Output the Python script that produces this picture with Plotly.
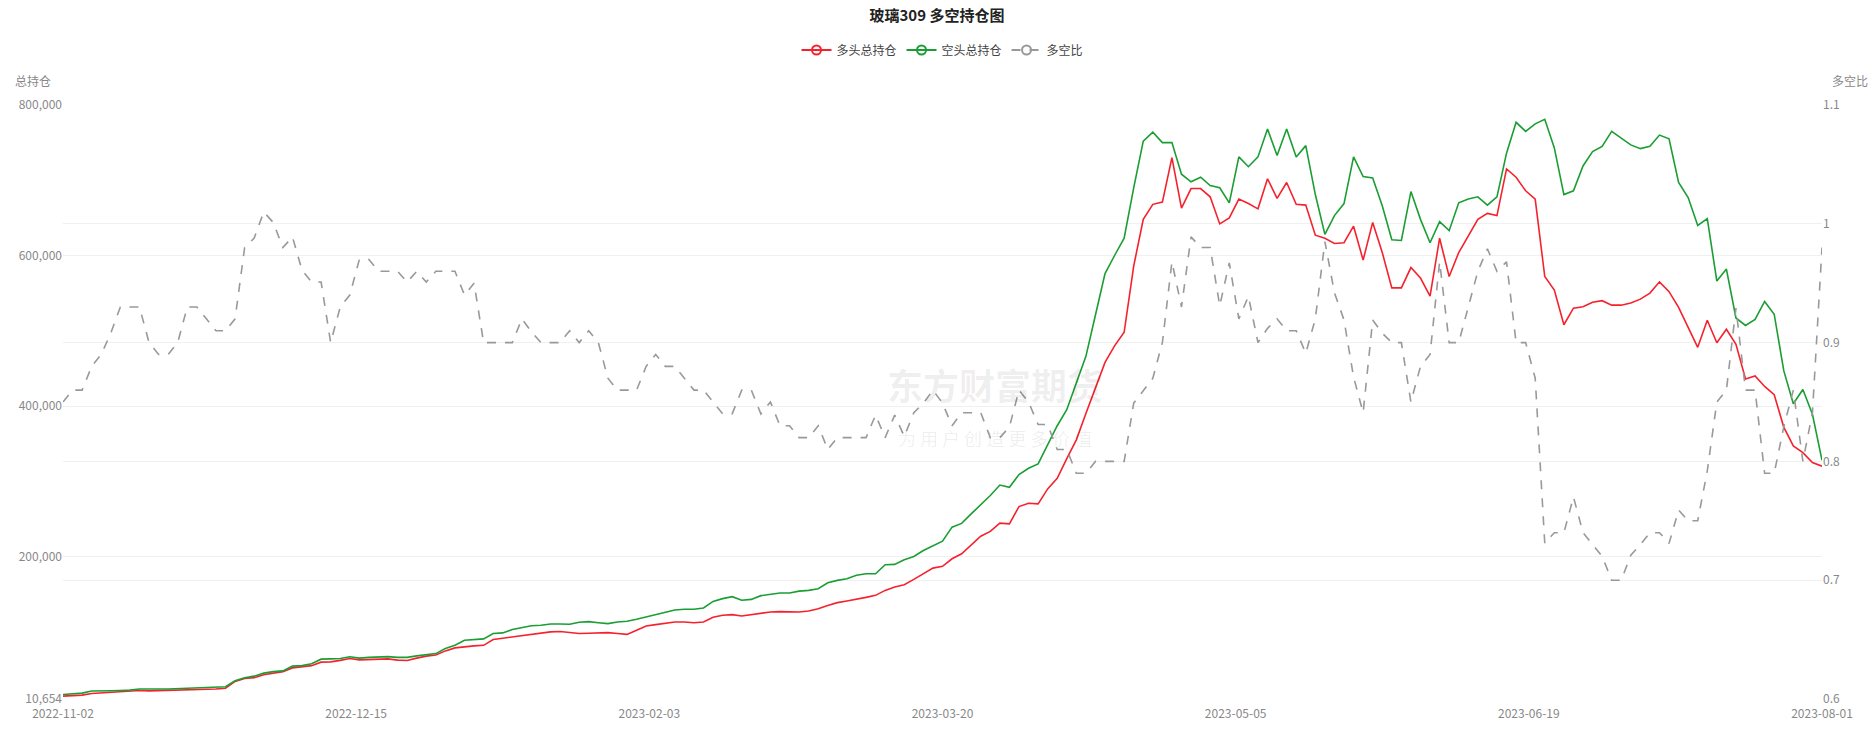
import plotly.graph_objects as go

title = "玻璃309 多空持仓图"
x_tick_labels = ["2022-11-02", "2022-12-15", "2023-02-03", "2023-03-20", "2023-05-05", "2023-06-19", "2023-08-01"]

# 空头总持仓 (short), thousands of lots
short_k = [16.7, 17.6, 18.5, 21.2, 21.0, 21.6, 22.0, 22.5, 24.0, 23.5, 24.0, 24.0, 24.5, 24.9, 25.3, 25.3, 26.0, 27.0, 35.0, 39.0,
           41.0, 45.0, 47.0, 48.0, 54.3, 55.0, 57.4, 63.6, 64.0, 64.5, 66.7, 65.0, 66.0, 67.0, 67.0, 66.0, 66.0, 68.0, 69.8, 71.0,
           77.7, 82.0, 88.8, 90.0, 90.6, 97.6, 98.5, 103, 105, 108, 108.7, 110.4, 110.4, 110, 112.7, 113.5, 112, 110.8, 113, 114,
           116.6, 119.7, 123, 126, 129, 130, 130, 131.6, 140.4, 144, 146.6, 141.8, 143, 148, 149.3, 151.5, 151.5, 154, 155, 157.2,
           165, 168.3, 170.5, 175, 177, 177, 189, 189.5, 195.7, 200, 208, 214.7, 220.4, 239, 244, 256.7, 268.6, 281, 295, 292,
           308.8, 317.2, 323, 349.5, 373.8, 395, 430, 466, 521, 576, 600, 623, 690, 752, 764, 750, 750, 708, 698, 704,
           693, 690, 670, 731, 718, 731, 768, 733, 768, 731, 746, 681, 628, 653, 669, 731, 705, 703, 666, 621,
           620, 685, 648, 617, 645, 633, 670, 675, 678, 667, 678, 736, 777, 765, 775, 781, 743, 681, 686, 719,
           738, 745, 765, 756, 747, 742, 745, 760, 755, 697, 677, 640, 649, 566, 582, 517, 507, 515, 539, 522,
           447, 403, 422, 389, 328]

# 多头总持仓 (long), thousands of lots
long_k = [14.5, 15.4, 15.8, 18.0, 19.0, 20.0, 21.0, 21.3, 22.0, 21.5, 21.8, 22.2, 22.6, 23.0, 23.4, 23.8, 24.0, 25.0, 34.0, 38.0,
          39.0, 43.0, 45.0, 47.0, 52.0, 53.0, 55.0, 59.6, 60.0, 62.0, 64.5, 62.7, 63.0, 64.0, 64.0, 62.3, 61.8, 65.0, 67.6, 69.0,
          74.6, 78.6, 80.4, 81.3, 82.0, 89.7, 91.4, 93, 95, 96.7, 98.5, 99.8, 100.3, 99.4, 97.6, 98, 98.5, 98.9, 97.6, 96.5,
          102, 107.7, 109.5, 111.7, 113, 113, 112, 113, 119.2, 122, 122.8, 121, 122.8, 125, 126.3, 126.7, 126.3, 126.3, 127.6, 130.7,
          135, 138.7, 140.9, 143, 145.7, 148.4, 155, 159.5, 162.6, 169.6, 177, 184.6, 186.9, 197, 203.7, 216, 227, 233.3, 244.3, 243.4,
          266.4, 270.8, 270, 289.8, 304, 330, 355, 390, 425, 458, 480, 498, 586, 648, 668, 671, 730, 663, 689, 689,
          678, 642, 650, 675, 669, 662, 702, 676, 697, 668, 667, 627, 623, 616, 617, 639, 594, 644, 604, 557,
          557, 584, 570, 546, 623, 572, 604, 626, 648, 656, 653, 715, 704, 686, 675, 572, 554, 508, 530, 532,
          538, 540, 534, 534, 537, 542, 550, 565, 552, 531, 505, 478, 514, 484, 502, 482, 436, 440, 426, 415,
          372, 347, 338, 325, 320]

# 多空比
ratio = [0.850, 0.860, 0.860, 0.880, 0.890, 0.908, 0.930, 0.930, 0.930, 0.900, 0.890, 0.890, 0.900, 0.930, 0.930, 0.920, 0.910, 0.910, 0.920, 0.980,
         0.988, 1.010, 1.001, 0.980, 0.989, 0.961, 0.951, 0.951, 0.900, 0.930, 0.940, 0.970, 0.970, 0.960, 0.960, 0.960, 0.951, 0.960, 0.951, 0.960,
         0.960, 0.960, 0.940, 0.950, 0.900, 0.900, 0.900, 0.900, 0.920, 0.909, 0.900, 0.900, 0.900, 0.910, 0.900, 0.910, 0.900, 0.870, 0.860, 0.860,
         0.860, 0.880, 0.890, 0.880, 0.880, 0.870, 0.860, 0.860, 0.850, 0.840, 0.840, 0.860, 0.860, 0.840, 0.850, 0.830, 0.830, 0.820, 0.820, 0.830,
         0.810, 0.820, 0.820, 0.820, 0.820, 0.839, 0.820, 0.839, 0.821, 0.841, 0.849, 0.860, 0.849, 0.830, 0.841, 0.841, 0.841, 0.820, 0.820, 0.829,
         0.860, 0.850, 0.831, 0.831, 0.810, 0.810, 0.790, 0.790, 0.800, 0.800, 0.800, 0.800, 0.849, 0.860, 0.870, 0.900, 0.968, 0.930, 0.989, 0.980,
         0.980, 0.931, 0.967, 0.920, 0.939, 0.900, 0.912, 0.920, 0.910, 0.910, 0.891, 0.920, 0.985, 0.942, 0.919, 0.871, 0.841, 0.919, 0.908, 0.900,
         0.900, 0.850, 0.880, 0.890, 0.968, 0.900, 0.900, 0.930, 0.960, 0.979, 0.960, 0.968, 0.900, 0.900, 0.870, 0.731, 0.740, 0.740, 0.770, 0.740,
         0.730, 0.720, 0.700, 0.700, 0.721, 0.730, 0.740, 0.740, 0.731, 0.759, 0.750, 0.750, 0.792, 0.850, 0.860, 0.929, 0.860, 0.860, 0.790, 0.790,
         0.829, 0.860, 0.800, 0.841, 0.980]

n = len(ratio)
idx = list(range(n))
long_pos = [v * 1000 for v in long_k]
short_pos = [v * 1000 for v in short_k]
tickvals = [i * (n - 1) / (len(x_tick_labels) - 1) for i in range(len(x_tick_labels))]

RED, GREEN, GRAY = "#f5222d", "#1a9e33", "#999999"
FONT = "Noto Sans CJK SC"

fig = go.Figure()
fig.add_trace(go.Scatter(x=idx, y=long_pos, mode="lines", line=dict(color=RED, width=1.6),
                         name="多头总持仓", showlegend=False))
fig.add_trace(go.Scatter(x=idx, y=short_pos, mode="lines", line=dict(color=GREEN, width=1.6),
                         name="空头总持仓", showlegend=False))
fig.add_trace(go.Scatter(x=idx, y=ratio, mode="lines", line=dict(color=GRAY, width=1.6, dash="dash"),
                         name="多空比", yaxis="y2", showlegend=False))
for nm, col, dash in [("多头总持仓", RED, "solid"), ("空头总持仓", GREEN, "solid"), ("多空比", GRAY, "dash")]:
    fig.add_trace(go.Scatter(x=[None], y=[None], mode="lines+markers", name=nm,
                             line=dict(color=col, width=2, dash=dash),
                             marker=dict(symbol="circle-open", size=9, color=col, line=dict(width=2))))

left_ticks = [10654, 200000, 400000, 600000, 800000]
fig.update_layout(
    width=1874, height=730,
    margin=dict(l=63, r=52, t=105, b=31),
    paper_bgcolor="white", plot_bgcolor="white",
    font=dict(family=FONT, color="#888", size=12),
    title=dict(text="<b>" + title + "</b>", x=0.5, xanchor="center", y=0.979, yanchor="middle",
               font=dict(size=15, color="#222")),
    legend=dict(orientation="h", x=0.5, xanchor="center", y=1.0926, yanchor="middle",
                font=dict(size=12, color="#444"), itemwidth=30),
    xaxis=dict(range=[0, n - 1], tickvals=tickvals, ticktext=x_tick_labels, showgrid=False, automargin=False,
               zeroline=False, showline=False, ticks="", ticklabelstandoff=6,
               tickfont=dict(size=12, color="#888")),
    yaxis=dict(range=[10654, 800000], tickvals=left_ticks, tickformat=",d", showgrid=True, automargin=False,
               gridcolor="#f0f0f0", zeroline=False, ticks="", tickfont=dict(size=12, color="#888")),
    yaxis2=dict(range=[0.6, 1.1], dtick=0.1, overlaying="y", side="right", showgrid=True, automargin=False,
                gridcolor="#f0f0f0", zeroline=False, ticks="", tickfont=dict(size=12, color="#888")),
    annotations=[
        dict(text="总持仓", xref="paper", yref="paper", x=-0.017, y=1.042, xanchor="center", yanchor="middle",
             showarrow=False, font=dict(size=12, color="#888")),
        dict(text="多空比", xref="paper", yref="paper", x=1.016, y=1.042, xanchor="center", yanchor="middle",
             showarrow=False, font=dict(size=12, color="#888")),
        dict(text="<b>东方财富期货</b>", xref="paper", yref="paper", x=0.53, y=0.53, showarrow=False,
             font=dict(size=36, color="rgba(0,0,0,0.07)")),
        dict(text="为 用 户 创 造 更 多 价 值", xref="paper", yref="paper", x=0.53, y=0.44, showarrow=False,
             font=dict(size=18, color="rgba(0,0,0,0.07)")),
    ],
)
fig.write_html("out.html", config={"displayModeBar": False})
with open("out.html", encoding="utf-8") as f:
    html = f.read()
html = html.replace("<body>", '<body style="margin:0">', 1)
with open("out.html", "w", encoding="utf-8") as f:
    f.write(html)
